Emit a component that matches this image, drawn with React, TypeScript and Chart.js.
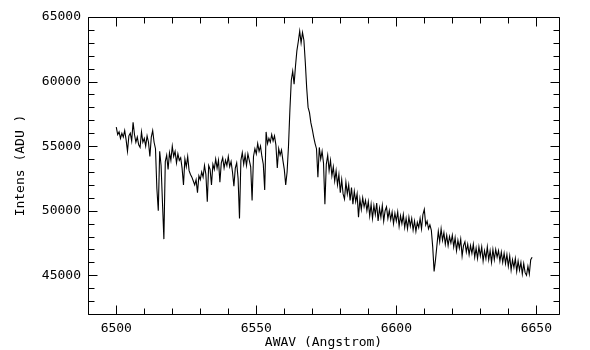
import React, { useEffect, useRef } from "react";
import { Chart, registerables } from "chart.js";

Chart.register(...registerables);

// Spectrum sampling: wavelength (Angstrom) of first sample and sample spacing
const wavelengthStart = 6500;
const wavelengthStep = 0.5;

// Intensity (ADU), one value per 0.5 Angstrom
const intensity: number[] = [
  56470, 55900, 56100, 55600, 56000, 55700, 56200, 55500, 54600, 55800,
  56000, 55400, 56850, 55900, 55300, 55700, 55100, 54900, 56100, 55300,
  55600, 55000, 55800, 55300, 54200, 55700, 56200, 55300, 54800, 51700,
  50000, 54600, 53500, 50600, 47800, 53800, 54300, 53200, 54500, 53900,
  55000, 54200, 54600, 53700, 54400, 53900, 54100, 53300, 52000, 54000,
  53400, 54200, 53100, 52800, 52600, 52300, 52000, 52400, 51400, 52700,
  52400, 53000, 52600, 53500, 52800, 50700, 53500, 53200, 52000, 53600,
  53200, 54000, 53300, 53900, 52200, 53700, 54100, 53300, 53900, 53500,
  54200, 53400, 53800, 53000, 51900, 53300, 53700, 52500, 49400, 53900,
  54500, 53600, 54300, 53500, 54400, 53900, 53400, 50800, 54200, 54800,
  54400, 55200, 54600, 55000, 54200, 53600, 51600, 56100, 55200, 55600,
  55300, 55900, 55400, 55800, 55100, 53300, 54800, 54300, 54700, 53900,
  53200, 52000, 53000, 55000, 57800, 60100, 60800, 59800, 61200, 62400,
  63100, 63900, 63000, 63800, 63200, 61500, 59500, 58000, 57600, 56800,
  56300, 55700, 55200, 54800, 52600, 54900, 54000, 54600, 53700, 50500,
  53600, 54300, 53100, 53900, 52700, 53400, 52300, 53100, 52000, 52800,
  51400, 52400, 51300, 50900, 52200, 51300, 52000, 50800, 51800, 50500,
  51500, 50700, 51300, 49500, 50900, 50100, 51000, 50300, 50800, 50000,
  50700, 49600, 50500, 49400, 50400, 49700, 50600, 49200, 50200, 49500,
  50400, 49200, 50000, 50300, 49400, 50000, 49300, 49900, 49000, 49800,
  49200, 49900, 48800, 49600, 49000, 49700, 48700, 49400, 48600, 49500,
  48800, 49400, 48500, 49200, 48400, 49100, 48700, 49400, 48600, 49700,
  50100, 48900, 49200, 48600, 48900, 48500, 47200, 45300, 46200, 47300,
  48400, 47600, 48600, 47700, 48300, 47400, 48100, 47300, 48000, 47500,
  48100, 47200, 47900, 46900, 47700, 47100, 47800, 46500, 47300, 47600,
  46800, 47400, 46600, 47300, 46700, 47400, 46400, 47100, 46300, 47200,
  46500, 47200, 46100, 46900, 46300, 47200, 46200, 46900, 46000, 47000,
  46200, 47000, 46400, 46900, 46100, 46800, 46000, 46700, 45900, 46600,
  45700, 46500, 45400, 46200, 45600, 46300, 45300, 46100, 45400, 46000,
  45100, 45900, 45200, 45000, 45700, 45100, 46200, 46400,
];

const xMajorTicks = [6500, 6550, 6600, 6650];
const yMajorTicks = [45000, 50000, 55000, 60000, 65000];
const xMinorStep = 10;
const yMinorStep = 1000;
const xMin = 6489.9;
const xMax = 6658.1;
const yMin = 42000;
const yMax = 65000;
const xTitle = "AWAV (Angstrom)";
const yTitle = "Intens (ADU )";

const FONT = "'DejaVu Sans Mono', 'Liberation Mono', monospace";

const framePlugin = {
  id: "pgFrame",
  afterDraw(chart: any) {
    const { ctx, chartArea: a, scales } = chart;
    const xs = scales.x;
    const ys = scales.y;
    const L = Math.round(a.left) + 0.5;
    const R = Math.round(a.right) + 0.5;
    const T = Math.round(a.top) + 0.5;
    const B = Math.round(a.bottom) + 0.5;
    ctx.save();
    ctx.strokeStyle = "#000";
    ctx.lineWidth = 1;
    ctx.beginPath();
    ctx.rect(L, T, R - L, B - T);
    for (let v = Math.ceil(xMin / xMinorStep) * xMinorStep; v <= xMax; v += xMinorStep) {
      const px = Math.round(xs.getPixelForValue(v)) + 0.5;
      const len = xMajorTicks.includes(v) ? 9 : 6;
      ctx.moveTo(px, B);
      ctx.lineTo(px, B - len);
      ctx.moveTo(px, T);
      ctx.lineTo(px, T + len);
    }
    for (let v = Math.ceil(yMin / yMinorStep) * yMinorStep; v <= yMax; v += yMinorStep) {
      const py = Math.round(ys.getPixelForValue(v)) + 0.5;
      const len = yMajorTicks.includes(v) ? 9 : 6;
      ctx.moveTo(L, py);
      ctx.lineTo(L + len, py);
      ctx.moveTo(R, py);
      ctx.lineTo(R - len, py);
    }
    ctx.stroke();
    ctx.restore();
  },
};

export default function App() {
  const canvasRef = useRef<HTMLCanvasElement | null>(null);

  useEffect(() => {
    document.body.style.margin = "0";
    const canvas = canvasRef.current;
    if (!canvas) return;
    const points = intensity.map((v, i) => ({
      x: wavelengthStart + i * wavelengthStep,
      y: v,
    }));
    const chart = new Chart(canvas, {
      type: "line",
      data: {
        datasets: [
          {
            data: points,
            borderColor: "#000",
            borderWidth: 1.1,
            pointRadius: 0,
            tension: 0,
            fill: false,
          },
        ],
      },
      options: {
        responsive: false,
        animation: false,
        events: [],
        layout: { padding: { left: 0, top: 17, right: 31, bottom: 0 } },
        plugins: {
          legend: { display: false },
          tooltip: { enabled: false },
        },
        scales: {
          x: {
            type: "linear",
            min: xMin,
            max: xMax,
            grid: { display: false, drawTicks: false, tickLength: 0 },
            border: { display: false },
            afterBuildTicks: (s: any) => {
              s.ticks = xMajorTicks.map((v) => ({ value: v }));
            },
            afterFit: (s: any) => {
              s.height = 36;
            },
            ticks: {
              color: "#000",
              font: { family: FONT, size: 13, lineHeight: 1 },
              padding: 8,
              maxRotation: 0,
              autoSkip: false,
              callback: (v: any) => String(v),
            },
            title: {
              display: true,
              text: xTitle,
              color: "#000",
              font: { family: FONT, size: 13, lineHeight: 1 },
              padding: { top: 0, bottom: 0.5 },
            },
          },
          y: {
            type: "linear",
            min: yMin,
            max: yMax,
            grid: { display: false, drawTicks: false, tickLength: 0 },
            border: { display: false },
            afterBuildTicks: (s: any) => {
              s.ticks = yMajorTicks.map((v) => ({ value: v }));
            },
            afterFit: (s: any) => {
              s.width = 88;
            },
            ticks: {
              color: "#000",
              font: { family: FONT, size: 13, lineHeight: 1 },
              padding: 7,
              autoSkip: false,
              callback: (v: any) => String(v),
            },
            title: {
              display: true,
              text: yTitle,
              color: "#000",
              font: { family: FONT, size: 13, lineHeight: 1 },
              padding: { top: 14.5, bottom: 0 },
            },
          },
        },
      },
      plugins: [framePlugin],
    });
    return () => chart.destroy();
  }, []);

  return (
    <div style={{ position: "fixed", left: 0, top: 0, width: 590, height: 350, background: "#fff" }}>
      <canvas ref={canvasRef} width={590} height={350} style={{ width: 590, height: 350 }} />
    </div>
  );
}
